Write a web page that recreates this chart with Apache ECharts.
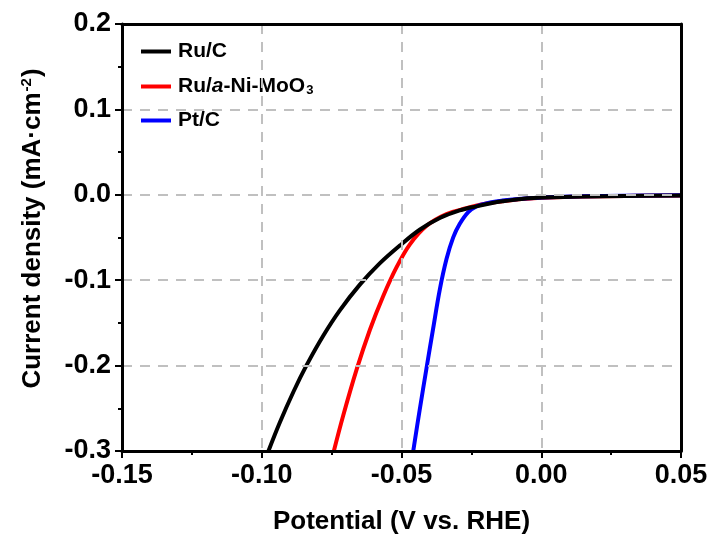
<!DOCTYPE html>
<html>
<head>
<meta charset="utf-8">
<script src="https://cdn.jsdelivr.net/npm/echarts@6/dist/echarts.min.js"></script>
<style>html,body{margin:0;padding:0;background:#fff;}#c{width:715px;height:540px;}</style>
</head>
<body>
<div id="c"></div>
<script>
const seriesNames = ['Ru/C', 'Ru/a-Ni-MoO3', 'Pt/C'];
const xTicks = [-0.15, -0.10, -0.05, 0.00, 0.05];
const yTicks = [-0.3, -0.2, -0.1, 0.0, 0.1, 0.2];

const ruCV = [-0.0976,-0.0935,-0.0887,-0.0839,-0.0780,-0.0720,-0.0649,-0.0578,-0.0506,-0.0435,-0.0363,-0.0292,-0.0232,-0.0180,-0.0139,-0.0070,0.0029,0.0150,0.0300,0.0500];
const ruCJ = [-0.300,-0.2664,-0.2309,-0.1992,-0.1650,-0.1350,-0.1052,-0.0803,-0.0594,-0.0409,-0.0272,-0.0183,-0.0135,-0.0099,-0.0076,-0.0048,-0.0030,-0.0020,-0.0014,-0.0008];

const ruNiV = [-0.0742,-0.0709,-0.0661,-0.0613,-0.0566,-0.0518,-0.0470,-0.0411,-0.0339,-0.0268,-0.0200,-0.0139,-0.0070,0.0029,0.0150,0.0300,0.0500];
const ruNiJ = [-0.300,-0.259,-0.205,-0.158,-0.119,-0.0850,-0.0580,-0.0365,-0.0226,-0.0158,-0.0105,-0.0076,-0.0049,-0.0031,-0.0020,-0.0014,-0.0008];

const ptCV = [-0.0458,-0.0435,-0.0411,-0.0387,-0.0363,-0.0339,-0.0315,-0.0292,-0.0262,-0.0232,-0.0186,-0.0139,-0.0070,0.0029,0.0150,0.0300,0.0500];
const ptCJ = [-0.300,-0.252,-0.204,-0.157,-0.111,-0.0753,-0.0499,-0.0343,-0.0206,-0.0136,-0.0092,-0.0068,-0.0045,-0.0028,-0.0018,-0.0011,-0.0004];

const zip = (a, b) => a.map((v, i) => [v, b[i]]);
const FONT = '"Liberation Sans", Arial, sans-serif';

const chart = echarts.init(document.getElementById('c'), null, {renderer: 'canvas'});
const lineSeries = (name, data, color, z) => ({
  name, type: 'line', data, smooth: 0.35, showSymbol: false, symbol: 'none', clip: true, z,
  xAxisIndex: 0, yAxisIndex: 0,
  lineStyle: {color, width: 4}, itemStyle: {color}
});
const dash = {color: '#c0c0c0', width: 2, type: [10, 8]};
const axisFont = {fontFamily: FONT, fontWeight: 'bold', fontSize: 27, color: '#000'};
const frameAxis = (pos) => ({
  type: 'value', position: pos, z: 10,
  axisLine: {show: true, onZero: false, lineStyle: {color: '#000', width: 3}},
  axisTick: {show: false}, axisLabel: {show: false}, splitLine: {show: false}
});
chart.setOption({
  animation: false,
  backgroundColor: '#fff',
  grid: {left: 122, right: 34, top: 24, bottom: 89, show: false},
  legend: {
    left: 136, top: 36, orient: 'vertical', itemGap: 13, itemWidth: 30, itemHeight: 4,
    icon: 'rect', data: seriesNames,
    textStyle: {fontFamily: FONT, fontWeight: 'bold', fontSize: 21, color: '#000', padding: [0, 0, 0, 2],
      rich: {
        b: {fontFamily: FONT, fontWeight: 'bold', fontSize: 21, color: '#000', lineHeight: 21},
        i: {fontFamily: FONT, fontWeight: 'bold', fontStyle: 'italic', fontSize: 21, color: '#000', lineHeight: 21},
        sub: {fontFamily: FONT, fontWeight: 'bold', fontSize: 13, color: '#000', lineHeight: 13, verticalAlign: 'bottom', padding: [9, 0, 0, 1]}
      }},
    formatter: n => n === 'Ru/a-Ni-MoO3' ? '{b|Ru/}{i|a}{b|-Ni-MoO}{sub|3}' : '{b|' + n + '}'
  },
  xAxis: [{
    type: 'value', min: xTicks[0], max: xTicks[xTicks.length - 1], interval: 0.05, z: 5,
    name: 'Potential (V vs. RHE)', nameLocation: 'middle', nameGap: 58,
    nameTextStyle: {fontFamily: FONT, fontWeight: 'bold', fontSize: 26, color: '#000'},
    axisLine: {show: true, onZero: false, lineStyle: {color: '#000', width: 3}},
    axisTick: {show: true, inside: false, length: 7, lineStyle: {color: '#000', width: 2}},
    minorTick: {show: true, splitNumber: 2, length: 4, lineStyle: {color: '#000', width: 2}},
    axisLabel: Object.assign({margin: 11, formatter: v => v.toFixed(2)}, axisFont),
    splitLine: {show: true, lineStyle: dash}
  }, Object.assign(frameAxis('top'), {min: xTicks[0], max: xTicks[xTicks.length - 1]})],
  yAxis: [{
    type: 'value', min: yTicks[0], max: yTicks[yTicks.length - 1], interval: 0.1, z: 5,
    name: '{n|Current density (mA·cm}{sup|-2}{n|)}', nameLocation: 'middle', nameGap: 76,
    nameTextStyle: {fontFamily: FONT, fontWeight: 'bold', fontSize: 26, color: '#000', padding: [0, 0, 0, 18],
      rich: {
        n: {fontFamily: FONT, fontWeight: 'bold', fontSize: 26, color: '#000'},
        sup: {fontFamily: FONT, fontWeight: 'bold', fontSize: 15, color: '#000', verticalAlign: 'top', padding: [0, 1, 12, 1]}
      }},
    axisLine: {show: true, onZero: false, lineStyle: {color: '#000', width: 3}},
    axisTick: {show: true, inside: false, length: 7, lineStyle: {color: '#000', width: 2}},
    minorTick: {show: true, splitNumber: 2, length: 4, lineStyle: {color: '#000', width: 2}},
    axisLabel: Object.assign({margin: 11, formatter: v => v.toFixed(1)}, axisFont),
    splitLine: {show: true, lineStyle: dash}
  }, Object.assign(frameAxis('right'), {min: yTicks[0], max: yTicks[yTicks.length - 1]})],
  series: [
    lineSeries(seriesNames[0], zip(ruCV, ruCJ), '#000000', 4),
    lineSeries(seriesNames[1], zip(ruNiV, ruNiJ), '#ff0000', 2),
    lineSeries(seriesNames[2], zip(ptCV, ptCJ), '#0000ff', 3)
  ]
});
</script>
</body>
</html>
